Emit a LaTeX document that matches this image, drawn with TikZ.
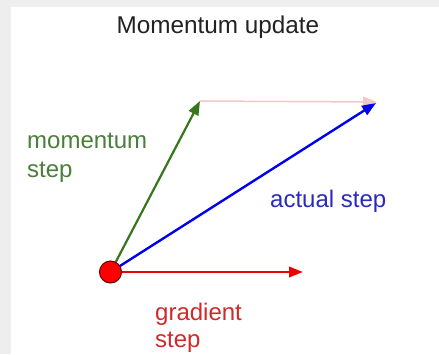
\documentclass[tikz,border=0pt]{standalone}
\usepackage{fontspec}
\setmainfont{Liberation Sans}
\usetikzlibrary{arrows.meta}
\definecolor{bggray}{HTML}{EEEEEE}
\definecolor{arrgreen}{HTML}{38761D}
\definecolor{txtgreen}{HTML}{4A7F3B}
\definecolor{arrblue}{HTML}{0000EE}
\definecolor{txtblue}{HTML}{2B2BB8}
\definecolor{arrred}{HTML}{EE0000}
\definecolor{txtred}{HTML}{D02A2A}
\definecolor{arrpink}{HTML}{F4C7C7}
\definecolor{titlegray}{HTML}{222222}
\begin{document}
\begin{tikzpicture}[x=1pt,y=-1pt,
  vec/.style={line width=2.2pt,-{Triangle[length=14pt,width=10.5pt]}},
  lbl/.style={inner sep=0pt,anchor=base west,font=\fontsize{24}{28}\selectfont,align=left}]
\useasboundingbox (0,0) rectangle (439,354);
\fill[bggray] (0,0) rectangle (439,354);
\fill[white] (11,7) rectangle (439,354);
\node[inner sep=0pt,anchor=base,font=\fontsize{24.3}{28}\selectfont,text=titlegray] (title) at (218,33) {Momentum update};
\coordinate (o) at (110.5,272);
\coordinate (g) at (303,272);
\coordinate (m) at (200,101);
\coordinate (p) at (377,102);
\coordinate (a) at (376,103);
\draw[vec,arrpink,line width=1.5pt] (m) -- (p);
\draw[vec,arrgreen] (o) -- (m);
\draw[vec,arrblue,line width=2.4pt] (o) -- (a);
\draw[vec,arrred] (o) -- (g);
\node[circle,minimum size=22pt,inner sep=0pt,fill=red,draw=black!60!red,line width=1pt] (dot) at (o) {};
\node[lbl,text=txtgreen] (ml) at (27,148) {momentum};
\node[lbl,text=txtgreen] (ms) at (27,177) {step};
\node[lbl,text=txtblue] (al) at (270,207) {actual step};
\node[lbl,text=txtred] (gl) at (155,320) {gradient};
\node[lbl,text=txtred] (gs) at (155,347) {step};
\end{tikzpicture}
\end{document}
